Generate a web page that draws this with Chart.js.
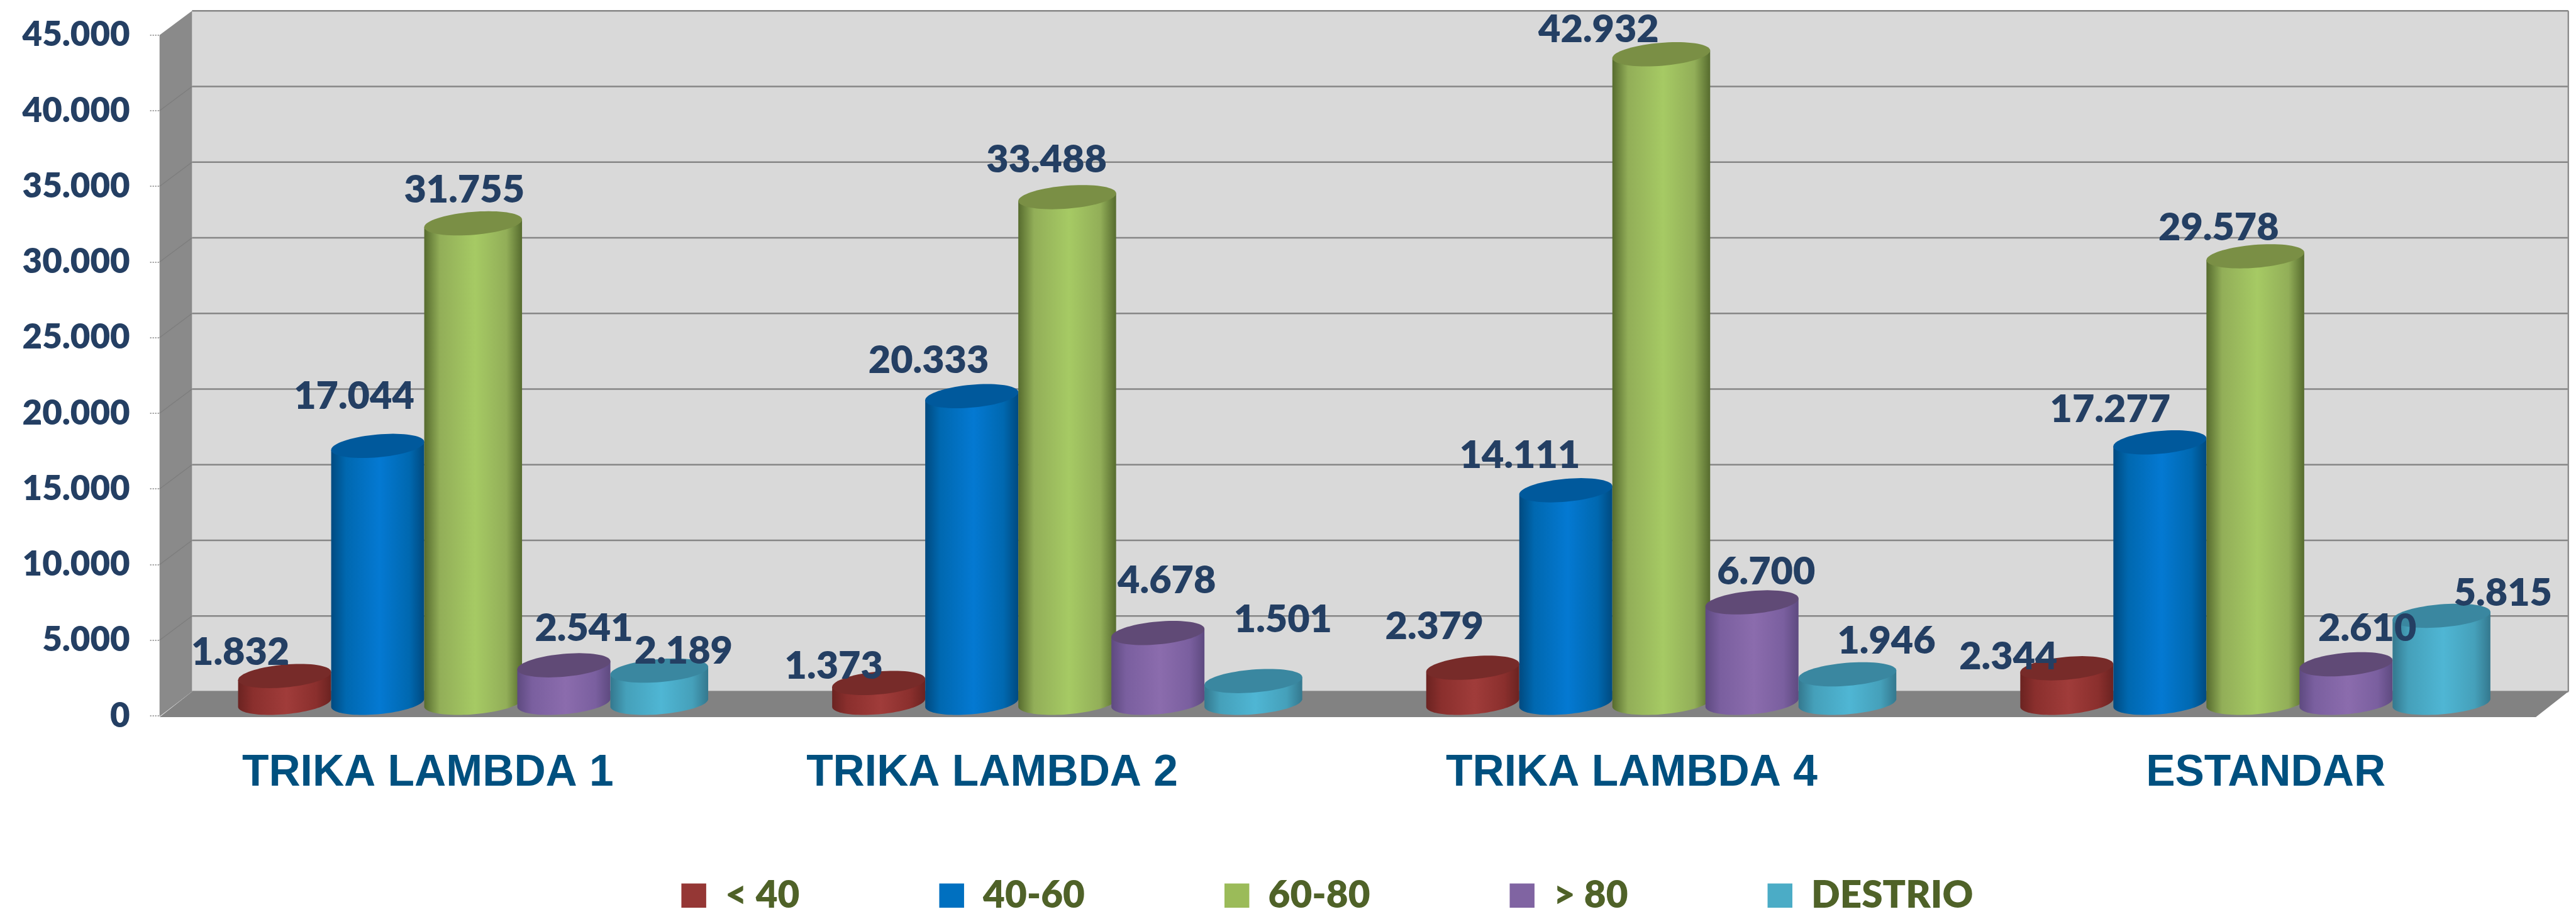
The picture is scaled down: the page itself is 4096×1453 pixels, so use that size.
<!DOCTYPE html>
<html>
<head>
<meta charset="utf-8">
<style>html,body{margin:0;padding:0;background:#fff}canvas{display:block}</style>
<script src="https://cdn.jsdelivr.net/npm/chart.js@4"></script>
</head>
<body>
<canvas id="c" width="4096" height="1453"></canvas>
<script>
// ---- data ----
const categories = ['TRIKA LAMBDA 1','TRIKA LAMBDA 2','TRIKA LAMBDA 4','ESTANDAR'];
const seriesNames = ['< 40','40-60','60-80','> 80','DESTRIO'];
const under40  = [1832, 1373, 2379, 2344];
const from40   = [17044, 20333, 14111, 17277];
const from60   = [31755, 33488, 42932, 29578];
const over80   = [2541, 4678, 6700, 2610];
const destrio  = [2189, 1501, 1946, 5815];
const yMax = 45000, yStep = 5000;

// ---- style (all lengths in reference pixels, scaled by K) ----
const K = 4096 / 4359;
const DEPTH_X = 55, DEPTH_Y = 41;
const legendColors = ['#953735','#0070c0','#9bbb59','#8064a2','#4bacc6'];
const capColors  = ['#772b29','#00599c','#7a8f45','#604a76','#3a87a0'];
const edgeColors = ['#6b2321','#004a80','#566b2e','#5e4a80','#34788e'];
const sideColors = ['#8a2f2d','#0068b0','#92ae58','#7a5f9f','#45a0ba'];
const midColors  = ['#a03c3a','#0479d2','#a6ca64','#8b6cad','#4fb6d4'];
const extraWidth = [0, 0, 8, 0, 8];
const labelDX = [[-51,-52,-41,-75],[-16,-49,-54,-60],[13,-7,-78,-34],[58,39,48,60],[69,78,94,132]];
const labelDY = [[-60,-49,-90,-40],[-104,-81,-79,-76],[-77,-83,-62,-69],[-83,-109,-72,-81],[-53,-124,-76,-58]];
const categoryNudge = [-48.6,-99,-22,45.6];

const fmt = v => String(v).replace(/\B(?=(\d{3})+$)/g,'.');
const series = [under40, from40, from60, over80, destrio];

function cylinder(ctx, el, s){
  const r = (el.width + extraWidth[s]*K)/2;
  const cx = el.x + (24 + extraWidth[s]/2)*K;
  const h = 20.5*K, b = 26*K, a = Math.sqrt(r*r-b*b);
  const topY = el.y - h, botY = el.base - h - 0.5;
  const tR = Math.atan2(b,a), tL = tR+Math.PI;
  const pt = (t,cy)=>[cx+a*Math.cos(t)+b*Math.sin(t), cy-h*Math.sin(t)];
  const grad = ctx.createLinearGradient(cx-r,0,cx+r,0);
  grad.addColorStop(0,edgeColors[s]);
  grad.addColorStop(0.16,sideColors[s]);
  grad.addColorStop(0.52,midColors[s]);
  grad.addColorStop(0.84,sideColors[s]);
  grad.addColorStop(1,edgeColors[s]);
  ctx.beginPath();
  let p = pt(tL,topY); ctx.moveTo(p[0],p[1]);
  for(let i=0;i<=48;i++){ p = pt(tL+(tR+2*Math.PI-tL)*i/48,botY); ctx.lineTo(p[0],p[1]); }
  p = pt(tR,topY); ctx.lineTo(p[0],p[1]);
  ctx.closePath();
  ctx.fillStyle = grad; ctx.fill();
  ctx.beginPath();
  for(let i=0;i<=72;i++){ p = pt(2*Math.PI*i/72,topY); i?ctx.lineTo(p[0],p[1]):ctx.moveTo(p[0],p[1]); }
  ctx.closePath();
  ctx.fillStyle = capColors[s]; ctx.fill();
}

const scene = {
  id:'scene',
  afterLayout(chart){
    const l = chart.legend, pad = l.options.labels.padding;
    l.left = 1153*K - pad;
    l.top = 1515*K - 30 - pad;
    l.bottom = l.top + 2*pad + 70;
  },
  beforeDraw(chart){
    const {ctx, chartArea:ca, scales:{x,y}} = chart;
    // nudge category labels as placed in the original
    const items = x.getLabelItems();
    if(!items._nudged){ items.forEach((it,i)=>{ it.options.translation[0] += categoryNudge[i]*K; }); items._nudged = true; }
    const dx = DEPTH_X*K, dy = DEPTH_Y*K;
    const L = ca.left, R = ca.right, T = y.getPixelForValue(yMax), B = y.getPixelForValue(0);
    ctx.save();
    ctx.fillStyle = '#d9d9d9'; ctx.fillRect(L+dx,T-dy,R-L,B-T);
    ctx.fillStyle = '#8a8a8a';
    ctx.beginPath(); ctx.moveTo(L,T); ctx.lineTo(L+dx,T-dy); ctx.lineTo(L+dx,B-dy); ctx.lineTo(L,B+1); ctx.closePath(); ctx.fill();
    y.ticks.forEach(t=>{
      const py = y.getPixelForValue(t.value);
      ctx.strokeStyle = '#868686'; ctx.lineWidth = 2.6;
      ctx.beginPath(); ctx.moveTo(L+dx,py-dy); ctx.lineTo(R+dx,py-dy); ctx.stroke();
      if(t.value>0 && t.value<yMax){
        ctx.strokeStyle = '#7d7d7d'; ctx.lineWidth = 1.4;
        ctx.beginPath(); ctx.moveTo(L,py); ctx.lineTo(L+dx,py-dy); ctx.stroke();
      }
    });
    ctx.strokeStyle = '#8e8e8e'; ctx.lineWidth = 2.4;
    ctx.beginPath(); ctx.moveTo(R+dx,T-dy); ctx.lineTo(R+dx,B-dy); ctx.stroke();
    ctx.fillStyle = '#828282';
    ctx.beginPath(); ctx.moveTo(L,B+2); ctx.lineTo(L+dx,B-dy); ctx.lineTo(R+dx,B-dy); ctx.lineTo(R,B+2); ctx.closePath(); ctx.fill();
    ctx.restore();
  },
  beforeDatasetsDraw(chart){
    const ctx = chart.ctx;
    ctx.save();
    for(let s=0;s<series.length;s++){
      chart.getDatasetMeta(s).data.forEach(el=>cylinder(ctx,el,s));
    }
    ctx.fillStyle = '#243f63';
    ctx.font = '800 '+(65*K)+'px Lato';
    ctx.textAlign = 'center'; ctx.textBaseline = 'middle';
    for(let s=0;s<series.length;s++){
      chart.getDatasetMeta(s).data.forEach((el,i)=>{
        ctx.fillText(fmt(series[s][i]), el.x+labelDX[s][i]*K, el.y+labelDY[s][i]*K);
      });
    }
    ctx.restore();
    return false;
  }
};

new Chart(document.getElementById('c'),{
  type:'bar',
  data:{
    labels:categories,
    datasets:series.map((d,i)=>({label:seriesNames[i],data:d,backgroundColor:legendColors[i],borderWidth:0}))
  },
  plugins:[scene],
  options:{
    responsive:false,
    animation:false,
    devicePixelRatio:1,
    layout:{padding:{left:0,right:4096-4291*K,top:59.4*K,bottom:0}},
    datasets:{bar:{categoryPercentage:787.5/1005.25,barPercentage:1}},
    plugins:{
      tooltip:{enabled:false},
      legend:{
        position:'bottom',align:'start',maxHeight:60,
        labels:{color:'#4f6228',font:{family:'Lato',weight:'800',size:64*K},boxWidth:42*K,boxHeight:41*K,padding:222}
      }
    },
    scales:{
      x:{
        grid:{display:false},border:{display:false},
        ticks:{color:'#00507f',font:{family:'"Liberation Sans"',weight:'bold',size:74*K},padding:42,maxRotation:0,autoSkip:false},
        afterFit(s){s.height=255;}
      },
      y:{
        min:0,max:yMax,
        grid:{drawOnChartArea:false,drawTicks:true,tickLength:16*K,color:'#b5b5b5',lineWidth:2,tickBorderDash:[2,2],tickColor:'#9a9a9a'},
        border:{display:false},
        ticks:{stepSize:yStep,color:'#243f63',font:{family:'Lato',weight:'800',size:58*K},padding:32,callback:v=>fmt(v)},
        afterFit(s){s.width=270*K;s.paddingTop=0;s.paddingBottom=0;}
      }
    }
  }
});
</script>
</body>
</html>
